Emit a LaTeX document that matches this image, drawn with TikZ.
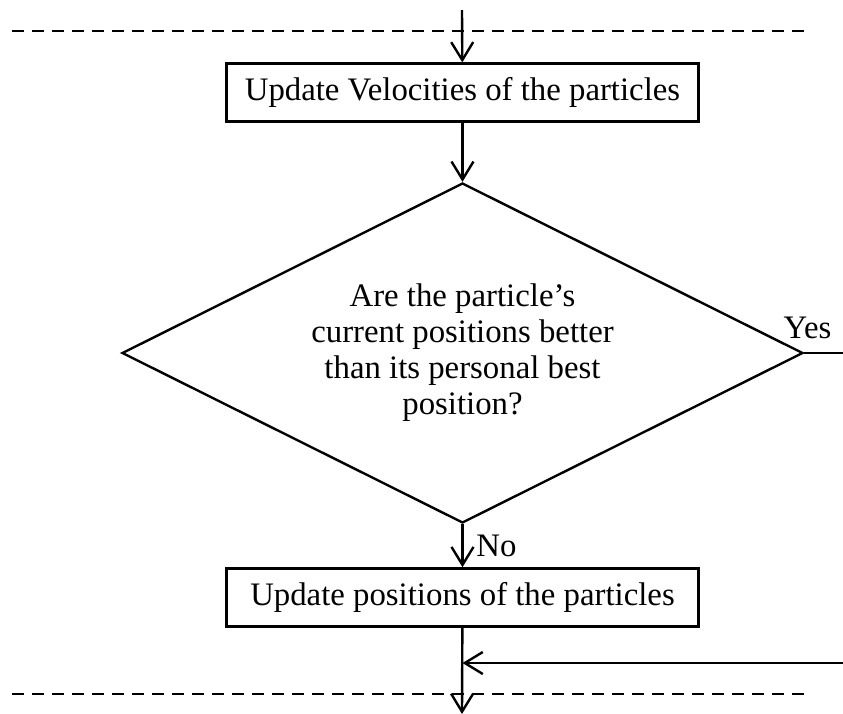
\documentclass[tikz,border=0pt]{standalone}
\usepackage{fontspec}
\setmainfont{Liberation Serif}
\usetikzlibrary{arrows.meta,shapes.geometric,positioning}

\begin{document}
\begin{tikzpicture}[x=0.5pt,y=-0.5pt,->,>={Straight Barb[length=9pt,width=11pt]},
  line width=1.2pt,font=\fontsize{16.4}{18}\selectfont,
  proc node/.style={rectangle,draw,minimum width=236pt,minimum height=29pt,inner sep=2pt},
  dec node/.style={diamond,draw,aspect=2,minimum width=340.5pt,minimum height=170pt,inner sep=0pt,align=center},
  sep line/.style={-,line width=0.75pt,dash pattern=on 6pt off 4pt}]

  \useasboundingbox (0,0) rectangle (843,714);

  \node[dec node] (dec) at (462.5,353) {Are the particle's\\current positions better\\than its personal best\\position?};
  \node[proc node] (upvel) [above=29.5pt of dec] {Update Velocities of the particles};
  \node[proc node] (uppos) [below=21.5pt of dec] {Update positions of the particles};

  \coordinate (top) at (462,10);
  \coordinate (bot) at (462,714);
  \coordinate (yes) at (843,353);
  \coordinate (back) at (843,663);

  % separators
  \draw[sep line] (12,31) -- (805,31);
  \draw[sep line] (12,694) -- (805,694);

  \draw (top) -- (upvel);
  \draw (upvel) -- (dec);
  \draw (dec) -- node[right,xshift=3pt] {No} (uppos);
  \draw[-] (dec.east) -- node[above,xshift=-8pt,yshift=3pt] {Yes} (yes);
  \draw (uppos) -- (bot);
  \draw (back) -- (uppos.south |- back);

\end{tikzpicture}
\end{document}
